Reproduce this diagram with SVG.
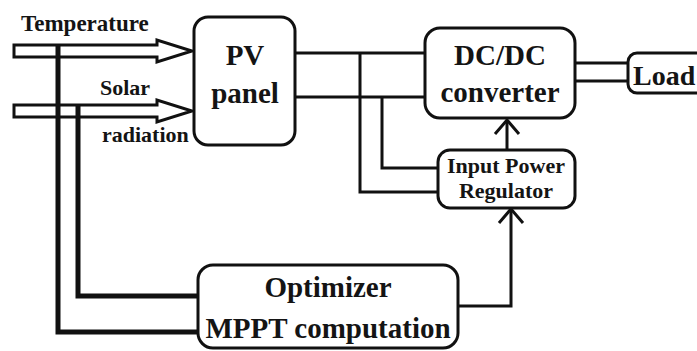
<svg xmlns="http://www.w3.org/2000/svg" width="697" height="351" viewBox="0 0 697 351">
<style>
.box{fill:#fff;stroke:#111;stroke-width:3}
.t{font-family:"Liberation Serif","Times New Roman",serif;font-weight:bold;fill:#141414}
.big{font-size:29px;text-anchor:middle}
.mid{font-size:22px;text-anchor:middle}
.lbl{font-size:22px}
.w{fill:none;stroke:#111;stroke-width:3}
.thick{fill:none;stroke:#111;stroke-width:5}
</style>
<rect width="697" height="351" fill="#fff"/>
<g id="connectors">
<polygon class="w" points="14,45 157,45 157,40 192,51 157,62 157,57 14,57"/>
<polygon class="w" points="14,105 157,105 157,100 192,111 157,122 157,117 14,117"/>
<polyline class="thick" points="58,45 58,332 198,332"/>
<polyline class="thick" points="78,105 78,296 198,296"/>
<line class="w" x1="295" y1="53" x2="425" y2="53"/>
<line class="w" x1="295" y1="97" x2="425" y2="97"/>
<polyline class="w" points="360,53 360,192 438,192"/>
<polyline class="w" points="382,97 382,168 438,168"/>
<line class="w" x1="575" y1="63" x2="628" y2="63"/>
<line class="w" x1="575" y1="81" x2="628" y2="81"/>
<line class="w" x1="507" y1="150" x2="507" y2="120"/>
<polyline class="w" points="495,134 507,120 519,134"/>
<polyline class="w" points="458,306 511,306 511,210"/>
<polyline class="w" points="499,223 511,209 523,223"/>
</g>
<g id="temperature"><text class="t" x="21" y="31" font-size="23">Temperature</text></g>
<g id="solar"><text class="t lbl" x="100" y="95">Solar</text><text class="t lbl" x="102" y="142">radiation</text></g>
<g id="pv">
<rect class="box" x="194" y="17" width="101" height="128" rx="14"/>
<text class="t big" x="245" y="65">PV</text>
<text class="t big" x="245" y="103">panel</text>
</g>
<g id="dcdc">
<rect class="box" x="425" y="28" width="150" height="90" rx="15"/>
<text class="t big" x="500" y="65">DC/DC</text>
<text class="t big" x="500" y="102">converter</text>
</g>
<g id="load">
<rect class="box" x="628" y="53" width="80" height="40" rx="9"/>
<text class="t" x="633" y="85" font-size="28">Load</text>
</g>
<g id="ipr">
<rect class="box" x="438" y="150" width="137" height="58" rx="12"/>
<text class="t mid" x="506" y="173">Input Power</text>
<text class="t mid" x="506" y="198">Regulator</text>
</g>
<g id="optimizer">
<rect class="box" x="198" y="265" width="260" height="83" rx="15"/>
<text class="t big" x="328" y="297" font-size="28">Optimizer</text>
<text class="t big" x="328" y="338" font-size="28">MPPT computation</text>
</g>
</svg>
